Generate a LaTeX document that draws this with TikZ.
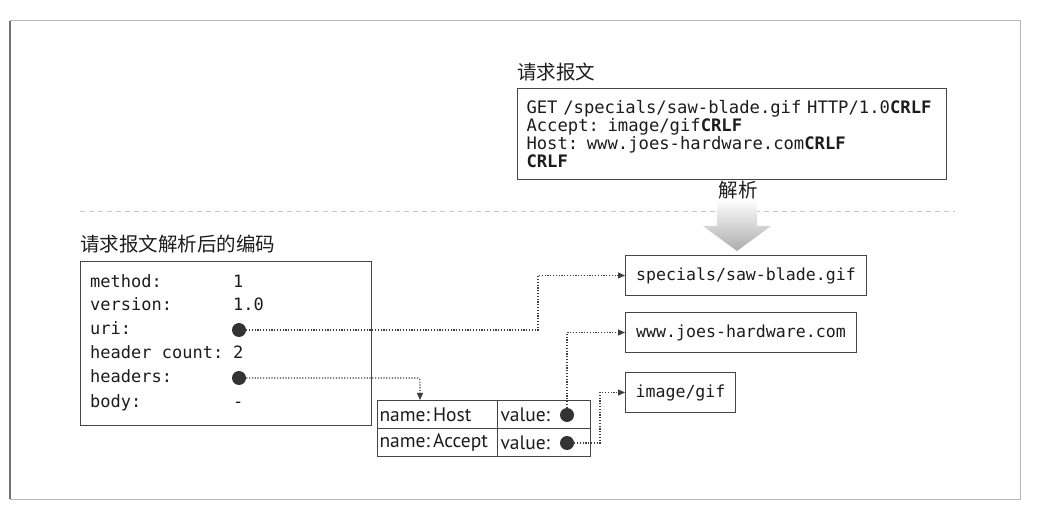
\documentclass[tikz,border=0pt]{standalone}
\usepackage{fontspec}
\setmonofont{DejaVu Sans Mono}
\newfontfamily\cjk{Noto Sans CJK SC}
\newfontfamily\tabfont{PT Sans}
\usetikzlibrary{arrows.meta}
\definecolor{ink}{HTML}{1C1C1C}
\definecolor{edge}{HTML}{444444}
\begin{document}
\begin{tikzpicture}[x=1pt,y=-1pt,
  mono/.style={font=\ttfamily\fontsize{17}{20}\selectfont, text=ink, inner sep=0pt, text height=12pt, text depth=3pt, anchor=west},
  box/.style={draw=edge, line width=1pt, rectangle, inner sep=0pt, text=ink},
  dot/.style={circle, fill=ink!90, minimum size=14pt, inner sep=0pt},
  conn/.style={draw=ink!85, line width=1.2pt, dash pattern=on 1.2pt off 1.6pt, -{Triangle[length=7pt,width=6pt]}},
  cjklabel/.style={font=\cjk\fontsize{19.5}{22}\selectfont, text=ink, inner sep=0pt},
  tab/.style={font=\tabfont\fontsize{19.5}{20}\selectfont}
]
\useasboundingbox (0,0) rectangle (1052,510);
% outer frame
\draw[gray!55, line width=1pt] (10,21) rectangle (1020,499);
\draw[gray!90!black, line width=1.4pt] (10,21) -- (10,499);

% request message
\node[cjklabel, anchor=west] (lreq) at (517,72) {请求报文};
\node[box, anchor=north west, minimum width=429pt, minimum height=91pt, text width=411pt, inner xsep=9pt, align=left,
      font=\ttfamily\fontsize{17.2}{18}\selectfont] (req) at (517,88)
  {GET /specials/saw-blade.gif HTTP/1.0\textbf{CRLF}\\
   Accept: image/gif\textbf{CRLF}\\
   Host: www.joes-hardware.com\textbf{CRLF}\\
   \textbf{CRLF}};

% separator and parse arrow
\draw[gray!45, line width=1pt, dash pattern=on 5pt off 4pt] (80,212) -- (955,212);
\node[cjklabel] (parse) at (738,190) {解析};
\shade[top color=white, bottom color=gray!65] (717,199) -- (757,199) -- (757,226) -- (771,226) -- (737,251) -- (703,226) -- (717,226) -- cycle;

% encoded structure
\node[cjklabel, anchor=west] (lenc) at (80,244) {请求报文解析后的编码};
\node[box, anchor=north west, minimum width=291pt, minimum height=164pt] (enc) at (80,261) {};
\node[mono] (kmethod) at (90,283) {method:};
\node[mono] (vmethod) at (233,283) {1};
\node[mono] (kversion) at (90,306) {version:};
\node[mono] (vversion) at (233,306) {1.0};
\node[mono] (kuri) at (90,330) {uri:};
\node[dot] (duri) at (239,330) {};
\node[mono] (kcount) at (90,354) {header count:};
\node[mono] (vcount) at (233,354) {2};
\node[mono] (kheaders) at (90,378) {headers:};
\node[dot] (dhead) at (239,378) {};
\node[mono] (kbody) at (90,403) {body:};
\node[mono] (vbody) at (233,403) {-};

% result boxes
\node[box, anchor=north west, minimum width=241pt, minimum height=40pt, font=\ttfamily\fontsize{16.6}{20}\selectfont] (spec) at (625,255) {specials/saw-blade.gif};
\node[box, anchor=north west, minimum width=231pt, minimum height=40pt, font=\ttfamily\fontsize{16.6}{20}\selectfont] (www) at (625,312) {www.joes-hardware.com};
\node[box, anchor=north west, minimum width=110pt, minimum height=40pt, font=\ttfamily\fontsize{16.6}{20}\selectfont] (img) at (625,372) {image/gif};

% header table
\node[box, tab, anchor=north west, minimum width=120pt, minimum height=28pt, text width=116pt, align=left] (t11) at (377,400) {name:\,Host};
\node[box, tab, anchor=north west, minimum width=93pt, minimum height=28pt, text width=87pt, align=left] (t12) at (497,400) {value:};
\node[box, tab, anchor=north west, minimum width=120pt, minimum height=28pt, text width=116pt, align=left] (t21) at (377,428) {name:\,Accept};
\node[box, tab, anchor=north west, minimum width=93pt, minimum height=28pt, text width=87pt, align=left] (t22) at (497,428) {value:};
\node[dot] (dhost) at (567,415) {};
\node[dot] (dacc) at (567,443) {};

% connectors
\draw[conn] (duri.east) -| ([xshift=-87pt]spec.west) -- (spec.west);
\draw[conn, rounded corners=2pt] (dhead.east) -| ([xshift=43pt]t11.north west);
\draw[conn] (dhost.north) |- (www.west);
\draw[conn] (dacc.east) -| ([xshift=-25pt]img.west) -- (img.west);
\end{tikzpicture}
\end{document}
